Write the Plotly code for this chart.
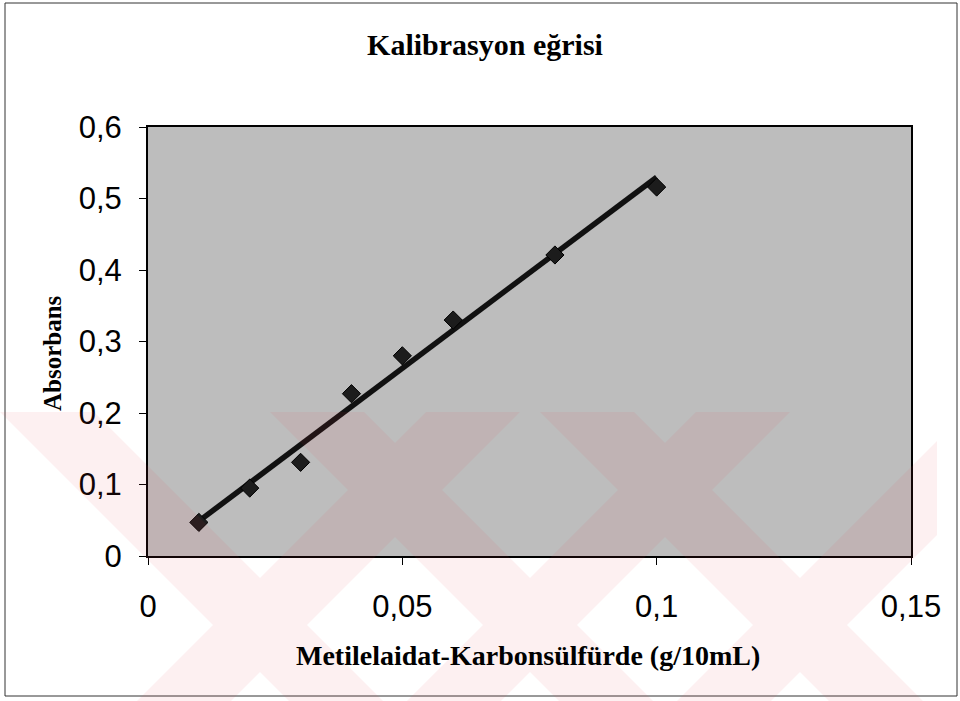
import numpy as np
import plotly.graph_objects as go

# ---- data ----
concentration = [0.01, 0.02, 0.03, 0.04, 0.05, 0.06, 0.08, 0.10]
absorbance = [0.047, 0.095, 0.131, 0.227, 0.280, 0.330, 0.421, 0.516]

x_tickvals = [0, 0.05, 0.10, 0.15]
x_ticktext = ["0", "0,05", "0,1", "0,15"]
y_tickvals = [0, 0.1, 0.2, 0.3, 0.4, 0.5, 0.6]
y_ticktext = ["0", "0,1", "0,2", "0,3", "0,4", "0,5", "0,6"]

title_text = "Kalibrasyon eğrisi"
x_title = "Metilelaidat-Karbonsülfürde (g/10mL)"
y_title = "Absorbans"

# linear trendline through the data (as in the spreadsheet chart)
slope, intercept = np.polyfit(concentration, absorbance, 1)
trend_x = [min(concentration), max(concentration)]
trend_y = [slope * v + intercept for v in trend_x]

# ---- layout geometry (pixels) ----
W, H = 960, 701
L, R, T, B = 148, 49, 127, 145
PW, PH = W - L - R, H - T - B


def px(x):
    return (x - L) / PW


def py(y):
    return (H - B - y) / PH


fig = go.Figure()

fig.add_trace(go.Scatter(
    x=trend_x, y=trend_y, mode="lines",
    line=dict(color="#111111", width=5.5),
    showlegend=False, hoverinfo="skip"))

fig.add_trace(go.Scatter(
    x=concentration, y=absorbance, mode="markers",
    marker=dict(symbol="diamond", size=14, color="#1c1c1c",
                line=dict(color="#000000", width=1)),
    showlegend=False))

axis_common = dict(
    showgrid=False, zeroline=False, showline=True, mirror=True,
    linecolor="#000000", linewidth=2, ticks="outside", ticklen=7,
    tickcolor="#000000", tickwidth=1,
    tickfont=dict(family="Liberation Sans, Arial, sans-serif", size=31, color="#000000"),
)

fig.update_xaxes(range=[0, 0.15], tickmode="array", tickvals=x_tickvals,
                 ticktext=x_ticktext, ticklabelstandoff=15, **axis_common)
fig.update_yaxes(range=[0, 0.6], tickmode="array", tickvals=y_tickvals,
                 ticktext=y_ticktext, ticklabelstandoff=11, **axis_common)

# ---- faint pink watermark (X-shaped bands at the bottom) ----
def clip_right(poly, xmax):
    out = []
    n = len(poly)
    for i in range(n):
        cur, nxt = poly[i], poly[(i + 1) % n]
        cin, nin = cur[0] <= xmax, nxt[0] <= xmax
        if cin:
            out.append(cur)
        if cin != nin:
            t = (xmax - cur[0]) / (nxt[0] - cur[0])
            out.append((xmax, cur[1] + t * (nxt[1] - cur[1])))
    return out


ytop, ybot, cy, hw = 412, 701, 625, 47
polys = []
for cx in (260, 530, 800):
    for sgn in (1, -1):
        poly = [
            (cx + sgn * (ytop - cy) - hw, ytop),
            (cx + sgn * (ytop - cy) + hw, ytop),
            (cx + sgn * (ybot - cy) + hw, ybot),
            (cx + sgn * (ybot - cy) - hw, ybot),
        ]
        poly = clip_right(poly, 937)
        if len(poly) >= 3:
            polys.append(poly)

path = ""
for poly in polys:
    path += "M " + " L ".join(f"{px(a):.4f},{py(b):.4f}" for a, b in poly) + " Z "

shapes = [
    dict(type="path", path=path, xref="paper", yref="paper",
         fillcolor="rgba(225,60,80,0.08)", fillrule="nonzero",
         line=dict(width=0), layer="above"),
    # outer chart-area border
    dict(type="rect", xref="paper", yref="paper",
         x0=px(5), x1=px(957), y0=py(696), y1=py(3),
         line=dict(color="#333333", width=1), layer="below"),
]

annotations = [
    dict(text=f"<b>{x_title}</b>", xref="paper", yref="paper",
         x=px(528), y=py(655), xanchor="center", yanchor="middle",
         showarrow=False,
         font=dict(family="Liberation Serif, Times New Roman, serif", size=28, color="#000000")),
    dict(text=f"<b>{y_title}</b>", xref="paper", yref="paper",
         x=px(52), y=py(353), xanchor="center", yanchor="middle",
         textangle=-90, showarrow=False,
         font=dict(family="Liberation Serif, Times New Roman, serif", size=25, color="#000000")),
]

fig.update_layout(
    width=W, height=H,
    margin=dict(l=L, r=R, t=T, b=B, pad=0),
    paper_bgcolor="#ffffff",
    plot_bgcolor="#bdbdbd",
    title=dict(text=f"<b>{title_text}</b>", xref="container", yref="container",
               x=485 / W, y=1 - 44 / H, xanchor="center", yanchor="middle",
               font=dict(family="Liberation Serif, Times New Roman, serif", size=30, color="#000000")),
    shapes=shapes,
    annotations=annotations,
    showlegend=False,
)

fig.write_html("out.html")
